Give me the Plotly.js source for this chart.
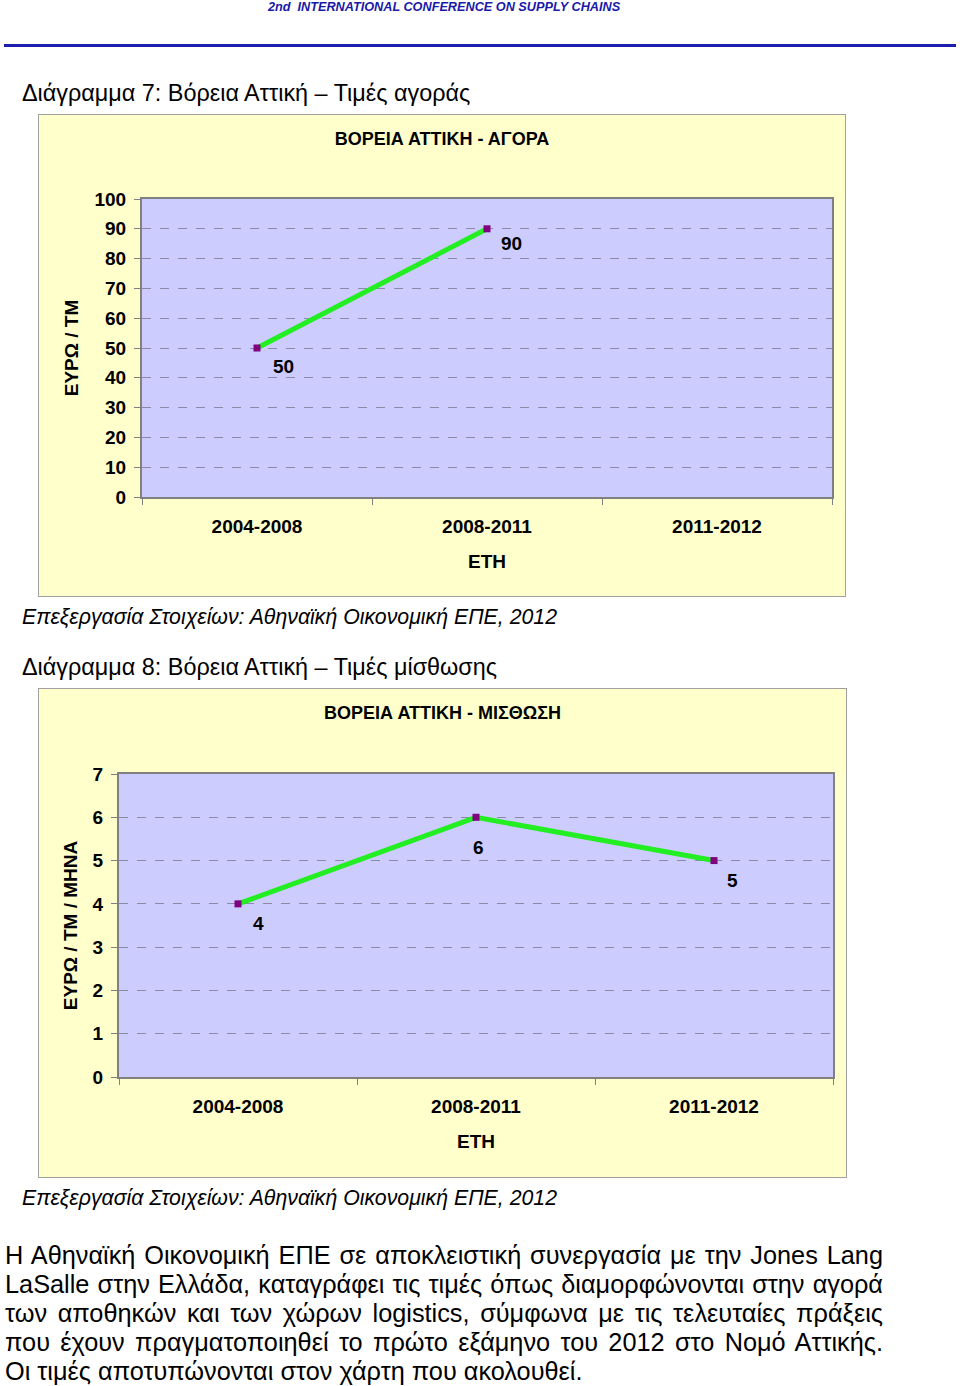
<!DOCTYPE html>
<html>
<head>
<meta charset="utf-8">
<script src="https://cdn.plot.ly/plotly-3.0.1.min.js"></script>
<style>
  body { margin:0; width:960px; height:1386px; background:#fff; position:relative;
         font-family:"Liberation Sans", Arial, sans-serif; color:#000; overflow:hidden; }
  .txt { position:absolute; white-space:nowrap; }
  .box { position:absolute; border:1px solid #a0a0a0; background:#ffffcc; }
  .line { position:absolute; left:5px; width:878px; font-size:25.3px; line-height:29px;
          text-align:justify; text-align-last:justify; white-space:nowrap; }
  .line.last { text-align-last:left; }
</style>
</head>
<body>

<div class="txt" style="left:0;width:888px;top:0;line-height:14px;text-align:center;font-size:12.7px;font-weight:bold;font-style:italic;color:#1a1aa8;">2nd&nbsp; INTERNATIONAL CONFERENCE ON SUPPLY CHAINS</div>
<div style="position:absolute;left:4px;top:44px;width:952px;height:3px;background:#1e1eb0;"></div>

<div class="txt" style="left:22px;top:79px;font-size:23.4px;line-height:28px;">Διάγραμμα 7: Βόρεια Αττική – Τιμές αγοράς</div>
<div class="box" style="left:38px;top:114px;width:806px;height:481px;"><div id="chart1"></div></div>
<div class="txt" style="left:22px;top:604px;font-size:21.3px;line-height:26px;font-style:italic;">Επεξεργασία Στοιχείων: Αθηναϊκή Οικονομική ΕΠΕ, 2012</div>

<div class="txt" style="left:22px;top:653px;font-size:23.4px;line-height:28px;">Διάγραμμα 8: Βόρεια Αττική – Τιμές μίσθωσης</div>
<div class="box" style="left:38px;top:688px;width:807px;height:488px;"><div id="chart2"></div></div>
<div class="txt" style="left:22px;top:1185px;font-size:21.3px;line-height:26px;font-style:italic;">Επεξεργασία Στοιχείων: Αθηναϊκή Οικονομική ΕΠΕ, 2012</div>

<div class="line" style="top:1241px;">Η Αθηναϊκή Οικονομική ΕΠΕ σε αποκλειστική συνεργασία με την Jones Lang</div>
<div class="line" style="top:1270px;">LaSalle στην Ελλάδα, καταγράφει τις τιμές όπως διαμορφώνονται στην αγορά</div>
<div class="line" style="top:1299px;">των αποθηκών και των χώρων logistics, σύμφωνα με τις τελευταίες πράξεις</div>
<div class="line" style="top:1328px;">που έχουν πραγματοποιηθεί το πρώτο εξάμηνο του 2012 στο Νομό Αττικής.</div>
<div class="line last" style="top:1357px;">Οι τιμές αποτυπώνονται στον χάρτη που ακολουθεί.</div>

<script>
// data
const periods = ['2004-2008', '2008-2011', '2011-2012'];
const salePrice = [50, 90, null];   // ΑΓΟΡΑ, ευρώ / τμ
const rentPrice = [4, 6, 5];        // ΜΙΣΘΩΣΗ, ευρώ / τμ / μήνα
const saleTicks = [0, 10, 20, 30, 40, 50, 60, 70, 80, 90, 100];
const rentTicks = [0, 1, 2, 3, 4, 5, 6, 7];

var fontFam = '"Liberation Sans", Arial, sans-serif';

function drawChart(id, title, ytitle, values, ticks, size, marg, shifts, standoff){
    var trace = {
        x: periods,
        y: values,
        type: 'scatter',
        mode: 'lines+markers',
        line: {color: '#22ee22', width: 5},
        marker: {symbol: 'square', size: 7, color: '#800080'},
        cliponaxis: false,
        hoverinfo: 'none'
    };
    var notes = [];
    for(let i=0; i<values.length; i++){
        if(values[i]===null) continue;
        notes.push({
            x: periods[i], y: values[i], xref: 'x', yref: 'y',
            text: String(values[i]), showarrow: false,
            xshift: shifts[i][0], yshift: -shifts[i][1],
            font: {family: fontFam, size: 19, weight: 'bold', color: '#000'}
        });
    }
    var layout = {
        width: size[0], height: size[1],
        margin: {l: marg[0], r: marg[1], t: marg[2], b: marg[3]},
        paper_bgcolor: '#ffffcc',
        plot_bgcolor: '#ccccff',
        showlegend: false,
        font: {family: fontFam, color: '#000'},
        title: {
            text: title, x: 0.5, xanchor: 'center', y: 1 - 24/size[1], yanchor: 'middle',
            yref: 'container', font: {size: 18, weight: 'bold', color: '#000'}
        },
        xaxis: {
            type: 'category', categoryorder: 'array', categoryarray: periods,
            range: [-0.5, 2.5], tickson: 'boundaries',
            ticks: 'outside', ticklen: 6, tickcolor: '#808080', tickwidth: 1,
            showline: true, mirror: true, linecolor: '#808080', linewidth: 2,
            showgrid: false, zeroline: false,
            tickfont: {size: 19, weight: 'bold'}, ticklabelstandoff: 11,
            title: {text: 'ΕΤΗ', font: {size: 19, weight: 'bold'}, standoff: 19}
        },
        yaxis: {
            range: [ticks[0], ticks[ticks.length-1]], tickvals: ticks,
            ticks: 'outside', ticklen: 6, tickcolor: '#808080', tickwidth: 1,
            showline: true, mirror: true, linecolor: '#808080', linewidth: 2,
            showgrid: true, gridcolor: '#8a8aa6', griddash: 'dash', gridwidth: 1,
            zeroline: false,
            tickfont: {size: 19, weight: 'bold'}, ticklabelstandoff: 4,
            title: {text: ytitle, font: {size: 19, weight: 'bold'}, standoff: standoff}
        },
        annotations: notes
    };
    Plotly.newPlot(id, [trace], layout, {staticPlot: true, displayModeBar: false});
}

drawChart('chart1', 'ΒΟΡΕΙΑ ΑΤΤΙΚΗ - ΑΓΟΡΑ', 'ΕΥΡΩ / ΤΜ', salePrice, saleTicks,
          [806, 481], [103, 13, 84, 99], [[26, 18], [24, 15]], 11);
drawChart('chart2', 'ΒΟΡΕΙΑ ΑΤΤΙΚΗ - ΜΙΣΘΩΣΗ', 'ΕΥΡΩ / ΤΜ / ΜΗΝΑ', rentPrice, rentTicks,
          [807, 488], [80, 13, 85, 100], [[20, 20], [2, 30], [18, 20]], 10);
</script>
</body>
</html>
